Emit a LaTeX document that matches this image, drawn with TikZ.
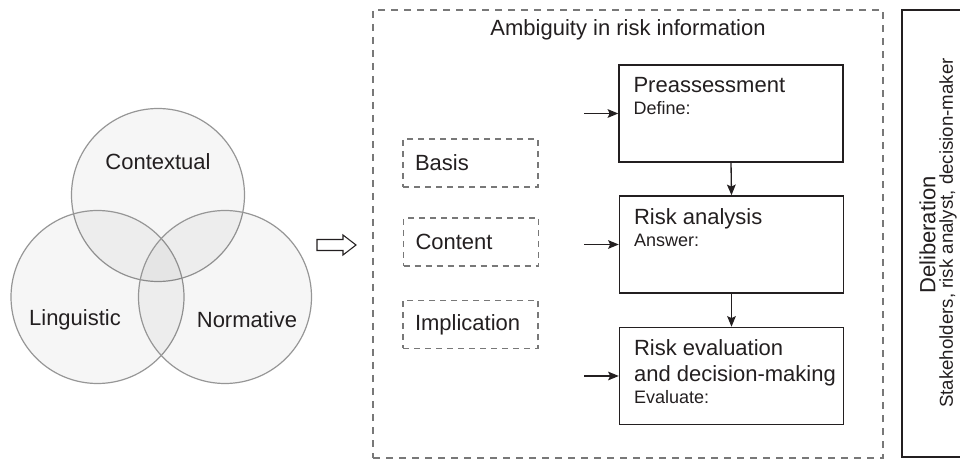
\documentclass[tikz,border=0pt]{standalone}
\usepackage{fontspec}
\setmainfont{Liberation Sans}
\usetikzlibrary{positioning, arrows.meta}
\definecolor{VennLine}{RGB}{150,150,150}
\definecolor{DashGray}{RGB}{120,120,120}
\definecolor{BoxInk}{RGB}{35,31,32}
\newcommand{\bigtxt}{\fontsize{16.5}{19.3}\selectfont}
\newcommand{\smalltxt}{\fontsize{13.5}{16}\selectfont}
\newcommand{\whotxt}{\fontsize{14}{16}\selectfont}

\begin{document}
\begin{tikzpicture}[x=0.75pt, y=-0.75pt,
    venn/.style={circle, draw=VennLine, line width=0.9pt, fill=black,
                 fill opacity=0.035, minimum size=129.75pt, inner sep=0pt},
    venntxt/.style={font=\bigtxt, text=BoxInk},
    outerbox/.style={draw=DashGray, line width=0.8pt,
                     dash pattern=on 5.25pt off 4.5pt,
                     minimum width=382.5pt, minimum height=336pt},
    aspect/.style={draw=DashGray, line width=0.8pt,
                   dash pattern=on 4.5pt off 3.75pt,
                   minimum width=101.25pt, minimum height=36pt,
                   inner xsep=9pt, text width=83.25pt, align=left,
                   font=\bigtxt, text=BoxInk},
    stage/.style={draw=BoxInk, line width=1.1pt,
                  minimum width=168pt, minimum height=72.75pt},
    stagetxt/.style={anchor=north west, inner xsep=11.25pt, inner ysep=9.5pt,
                     align=left, font=\bigtxt, text=BoxInk},
    flow/.style={-{Stealth[length=8pt, width=6.5pt, inset=1.5pt]},
                 line width=1pt, draw=BoxInk},
    hollow/.style={draw=BoxInk, line width=0.8pt, line join=miter, fill=white}
  ]
  \useasboundingbox (0,0) rectangle (960,459);
  \clip (0,0) rectangle (960,459);
  % Three kinds of ambiguity
  \node[venn] (ctx) at (158,195) {};
  \node[venn] (lin) at (97.5,297) {};
  \node[venn] (nor) at (225,297) {};
  \node[venntxt] (ctxtxt) at (158,162) {Contextual};
  \node[venntxt] (lintxt) at (75,320) {Linguistic};
  \node[venntxt] (nortxt) at (247,320) {Normative};
  % Hollow arrow
  \draw[hollow] (317,239.5) -- (343,239.5) -- (343,235) -- (356,245)
    -- (343,255) -- (343,250.5) -- (317,250.5) -- cycle;
  % Ambiguity in risk information
  \node[outerbox] (amb) at (628,234) {};
  \node[font=\bigtxt, text=BoxInk] (ambtitle) at (628,30) {Ambiguity in risk information};
  \node[aspect] (basis) at (470.5,163) {Basis};
  \node[aspect] (content) at (471,242) {Content};
  \node[aspect] (implic) at (470.5,324.5) {Implication};
  % Stages of the risk process
  \node[stage] (pre) at (731,113.5) {};
  \node[stage] (ana) at (731.5,244.5) {};
  \node[stage] (eva) at (731.5,376) {};
  \node[stagetxt] (pretxt) at (pre.north west) {Preassessment\\[-2.8pt]{\smalltxt Define:}};
  \node[stagetxt] (anatxt) at (ana.north west) {Risk analysis\\[-2.8pt]{\smalltxt Answer:}};
  \node[stagetxt] (evatxt) at (eva.north west) {Risk evaluation\\and decision-making\\[-2.8pt]{\smalltxt Evaluate:}};
  \coordinate (inpre) at (584,113.5);
  \coordinate (inana) at (584,244.5);
  \coordinate (ineva) at (584,376);
  \draw[flow] (inpre) -- (pre.west);
  \draw[flow] (inana) -- (ana.west);
  \draw[flow] (ineva) -- (eva.west);
  \draw[flow] (pre.south) -- (ana.north);
  \draw[flow] (ana.south) -- (eva.north);
  % Deliberation
  \node[draw=BoxInk, line width=1.2pt, minimum width=73.5pt,
        minimum height=335.25pt] (delib) at (951,233.5) {};
  \node[rotate=90, font=\bigtxt, text=BoxInk] (delibtitle) at (927.5,235) {Deliberation};
  \node[rotate=90, font=\whotxt, text=BoxInk] (delibwho) at (948,233)
    {Stakeholders, risk analyst, decision-maker};
\end{tikzpicture}
\end{document}
